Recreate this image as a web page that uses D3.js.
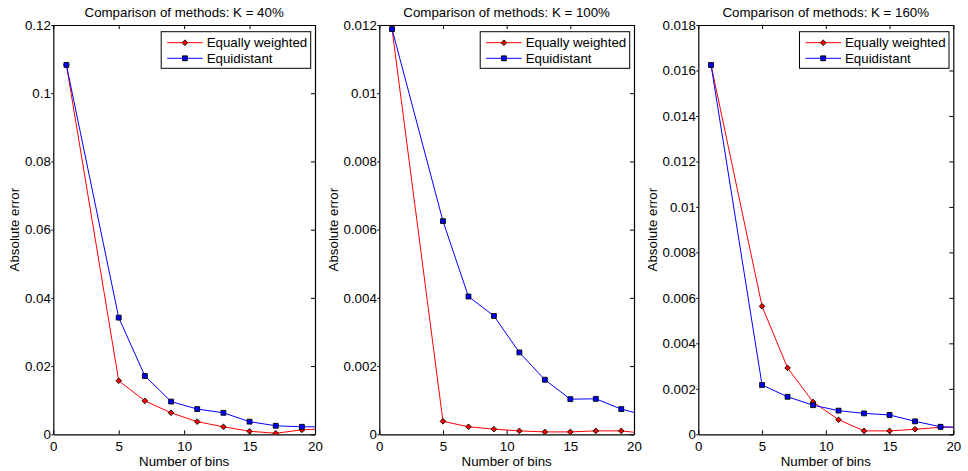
<!DOCTYPE html>
<html>
<head>
<meta charset="utf-8">
<script src="https://cdn.jsdelivr.net/npm/d3@7"></script>
<style>
  body { margin: 0; background: #fff; }
  svg { display: block; font-family: "Liberation Sans", Arial, Helvetica, sans-serif; }
</style>
</head>
<body>
<svg id="chart" width="968" height="471"></svg>
<script>
/***************************************************************
    Data
****************************************************************/
const bins = [1, 5, 7, 9, 11, 13, 15, 17, 19, 21];

const titles = [
    "Comparison of methods: K = 40%",
    "Comparison of methods: K = 100%",
    "Comparison of methods: K = 160%"
];
const seriesNames = ["Equally weighted", "Equidistant"];

const weighted40 = [0.1083, 0.0157, 0.0098, 0.0063, 0.0037, 0.0022, 0.0009, 0.0003, 0.0013, 0.0017];
const equidist40 = [0.1083, 0.0342, 0.0171, 0.0096, 0.0074, 0.0063, 0.0037, 0.0025, 0.0022, 0.0022];

const weighted100 = [0.01188, 0.00038, 0.00022, 0.00015, 0.00010, 0.00007, 0.00007, 0.00010, 0.00010, 0.00002];
const equidist100 = [0.01188, 0.00625, 0.00404, 0.00347, 0.00240, 0.00160, 0.00103, 0.00104, 0.00074, 0.00054];

const weighted160 = [0.01624, 0.00563, 0.00292, 0.00142, 0.00064, 0.00015, 0.00015, 0.00022, 0.00031, 0.00031];
const equidist160 = [0.01624, 0.00217, 0.00165, 0.00128, 0.00104, 0.00092, 0.00085, 0.00057, 0.00033, 0.00030];

const yMax = [0.12, 0.012, 0.018];
const yTicks = [
    [0, 0.02, 0.04, 0.06, 0.08, 0.1, 0.12],
    [0, 0.002, 0.004, 0.006, 0.008, 0.01, 0.012],
    [0, 0.002, 0.004, 0.006, 0.008, 0.01, 0.012, 0.014, 0.016, 0.018]
];
const xTicks = [0, 5, 10, 15, 20];

/***************************************************************
    Layout
****************************************************************/
const panels = [
    { left: 53.3, right: 315, weighted: weighted40, equidist: equidist40 },
    { left: 379.3, right: 634, weighted: weighted100, equidist: equidist100 },
    { left: 698.3, right: 953.3, weighted: weighted160, equidist: equidist160 }
];
const plotTop = 25, plotBottom = 434.3;
const colors = ["#ff0000", "#0000ff"];
const fontSize = 13.3;

const svg = d3.select("#chart");

panels.forEach((p, i) => drawPanel(p, i));

function markerSymbol(s) {
    return d3.symbol().type(s === 0 ? d3.symbolDiamond2 : d3.symbolSquare2).size(s === 0 ? 20 : 30);
}

function drawPanel(p, i) {
    const x = d3.scaleLinear().domain([0, 20]).range([p.left, p.right]);
    const y = d3.scaleLinear().domain([0, yMax[i]]).range([plotBottom, plotTop]);
    const g = svg.append("g");
    const clipId = "clip" + i;

    g.append("clipPath").attr("id", clipId).append("rect")
        .attr("x", p.left).attr("y", plotTop - 5)
        .attr("width", p.right - p.left).attr("height", plotBottom - plotTop + 5);

    // axes: box with ticks all round
    const fmt = d3.format("~g");
    g.append("g").attr("transform", `translate(0,${plotBottom})`)
        .call(d3.axisBottom(x).tickValues(xTicks).tickSizeInner(-4).tickSizeOuter(0).tickPadding(7).tickFormat(d3.format("d")));
    g.append("g").attr("transform", `translate(0,${plotTop})`)
        .call(d3.axisTop(x).tickValues(xTicks).tickSizeInner(-4).tickSizeOuter(0).tickFormat(""));
    const yAxisG = g.append("g").attr("transform", `translate(${p.left},0)`)
        .call(d3.axisLeft(y).tickValues(yTicks[i]).tickSizeInner(2).tickSizeOuter(0).tickPadding(0.5).tickFormat(fmt));
    g.append("g").attr("transform", `translate(${p.right},0)`)
        .call(d3.axisRight(y).tickValues(yTicks[i]).tickSizeInner(-4).tickSizeOuter(0).tickFormat(""));

    g.selectAll(".domain").attr("stroke", "#000").attr("stroke-width", 1.2);
    g.selectAll(".tick line").attr("stroke", "#000");
    g.selectAll(".tick text").attr("font-size", fontSize).attr("fill", "#000")
        .attr("font-family", "Liberation Sans, Arial, sans-serif");

    // y label sits just outside the widest tick label
    let maxW = 0;
    yAxisG.selectAll(".tick text").each(function () { maxW = Math.max(maxW, this.getComputedTextLength()); });

    // titles / labels
    g.append("text").attr("x", (p.left + p.right) / 2).attr("y", 16.5)
        .attr("text-anchor", "middle").attr("font-size", fontSize).text(titles[i]);
    g.append("text").attr("x", (p.left + p.right) / 2).attr("y", 466)
        .attr("text-anchor", "middle").attr("font-size", fontSize).text("Number of bins");
    g.append("text").attr("transform", `translate(${p.left - maxW - 8},${(plotTop + plotBottom) / 2}) rotate(-90)`)
        .attr("text-anchor", "middle").attr("font-size", fontSize).text("Absolute error");

    // series
    const line = d3.line().x((d, k) => x(bins[k])).y(d => y(d));
    const plot = g.append("g").attr("clip-path", `url(#${clipId})`);
    const series = [p.weighted, p.equidist];

    series.forEach((vals, s) => {
        plot.append("path").datum(vals).attr("d", line)
            .attr("fill", "none").attr("stroke", colors[s]).attr("stroke-width", 1);
    });
    series.forEach((vals, s) => {
        plot.selectAll(null).data(vals).enter().append("path")
            .attr("transform", (d, k) => `translate(${x(bins[k])},${y(d)})`)
            .attr("d", markerSymbol(s))
            .attr("fill", colors[s]).attr("stroke", "#000").attr("stroke-width", 0.9);
    });

    // legend
    const lgW = 149.5, lgH = 36.6;
    const lgX = p.right - 4.3 - lgW, lgY = plotTop + 6.7;
    const lg = g.append("g").attr("transform", `translate(${lgX},${lgY})`);
    lg.append("rect").attr("width", lgW).attr("height", lgH)
        .attr("fill", "#fff").attr("stroke", "#000").attr("stroke-width", 1);
    seriesNames.forEach((name, s) => {
        const ry = 11 + s * 15.6;
        lg.append("line").attr("x1", 6).attr("x2", 41.5).attr("y1", ry).attr("y2", ry)
            .attr("stroke", colors[s]).attr("stroke-width", 1);
        lg.append("path").attr("transform", `translate(23.7,${ry})`).attr("d", markerSymbol(s))
            .attr("fill", colors[s]).attr("stroke", "#000").attr("stroke-width", 0.9);
        lg.append("text").attr("x", 45.5).attr("y", ry + 4.6).attr("font-size", fontSize).text(name);
    });
}
</script>
</body>
</html>
